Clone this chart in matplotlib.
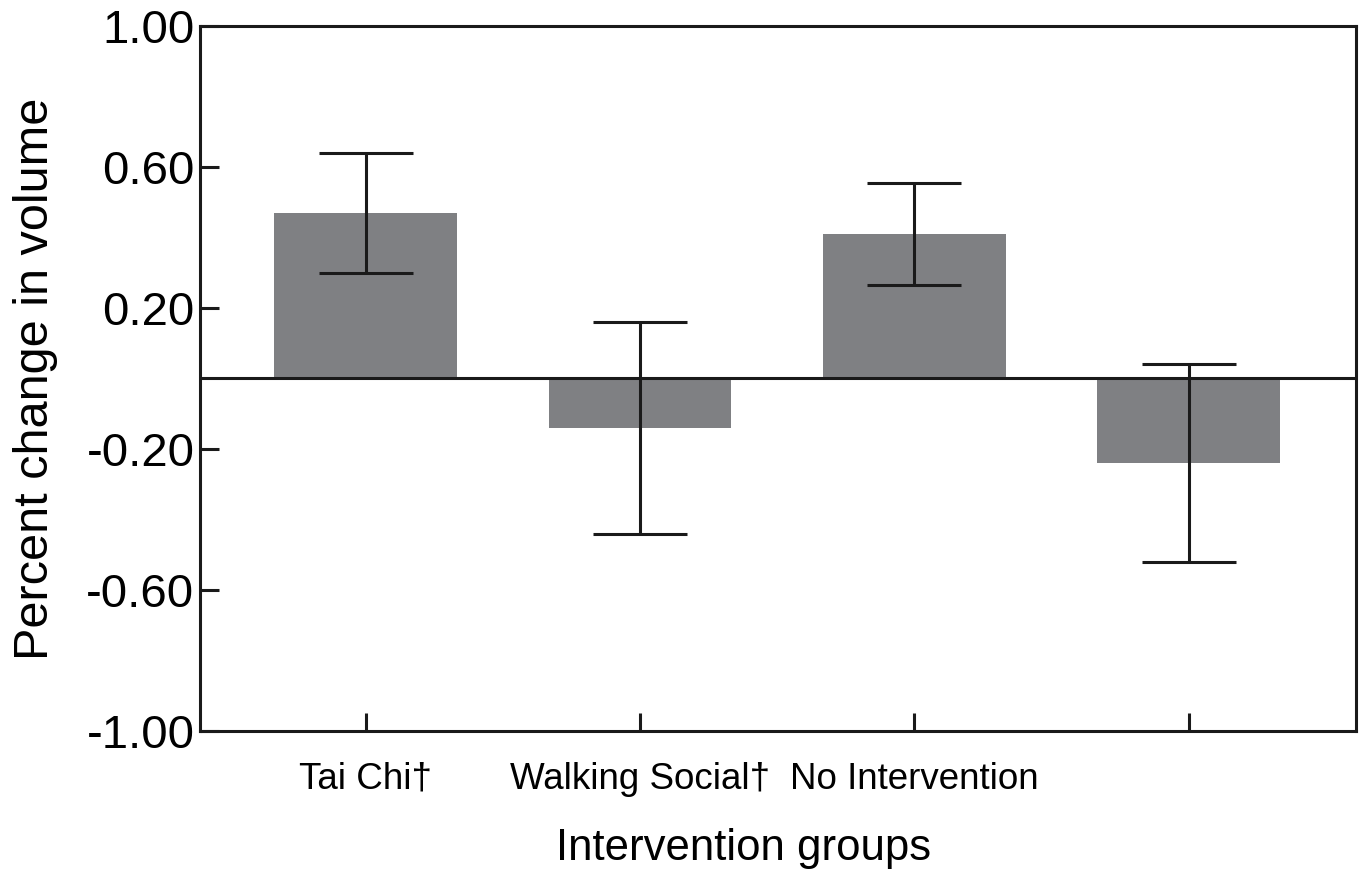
import matplotlib.pyplot as plt
import numpy as np

plt.rcParams['font.family'] = ['Liberation Sans', 'DejaVu Sans']

# Percent change in volume per group, with error bars
groups = ["Tai Chi\u2020", "Walking Social\u2020", "No Intervention", ""]
change = [0.47, -0.14, 0.41, -0.24]
err = [0.17, 0.30, 0.145, 0.28]
yticks = [1.00, 0.60, 0.20, -0.20, -0.60, -1.00]

fig = plt.figure(figsize=(13.63, 8.77), dpi=100)
ax = fig.add_axes([0.1467, 0.1665, 0.8482, 0.8039])

x = np.arange(len(groups))
ax.bar(x, change, width=0.667, color="#7f8083", zorder=1)
ax.errorbar(x, change, yerr=err, fmt="none", ecolor="#1a1a1a",
            elinewidth=2.2, capsize=33.5, capthick=2.2, zorder=3)
ax.axhline(0, color="#1a1a1a", linewidth=2.2, zorder=2)

ax.set_xlim(-0.604, 3.61)
ax.set_ylim(-1.0, 1.0)
ax.set_yticks(yticks)
ax.set_yticklabels([f"{v:.2f}" for v in yticks])
ax.set_xticks(x)
ax.set_xticklabels(groups, fontsize=26.5)

for s in ax.spines.values():
    s.set_linewidth(2.2)
    s.set_color("#1a1a1a")
ax.tick_params(axis="y", direction="in", length=13.5, width=2.2,
               labelsize=34, pad=4, color="#1a1a1a")
ax.tick_params(axis="x", direction="in", length=13, width=2.2,
               pad=22, color="#1a1a1a")

ax.set_ylabel("Percent change in volume", fontsize=35, labelpad=20)
ax.set_xlabel("Intervention groups", fontsize=31.5)
ax.xaxis.set_label_coords(0.4706, -0.138)

fig.savefig("out.png", dpi=100)
